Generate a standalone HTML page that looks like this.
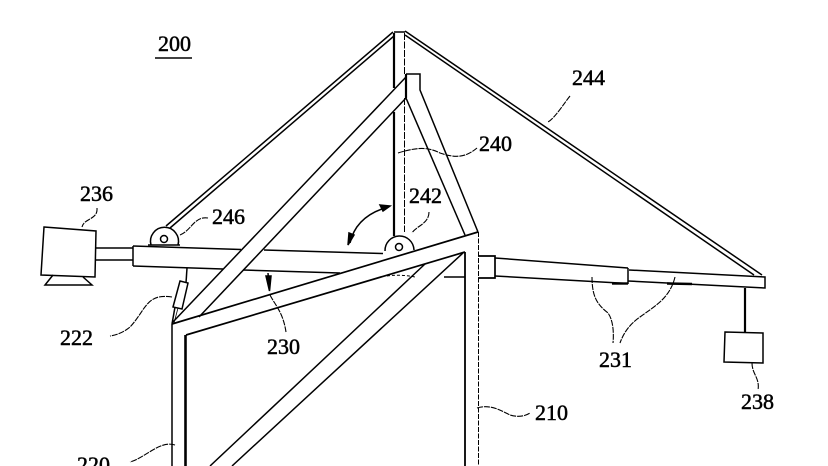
<!DOCTYPE html>
<html><head><meta charset="utf-8"><style>
html,body{margin:0;padding:0;background:#fff}
svg{display:block}
text{font-family:"Liberation Serif",serif;font-size:22px;fill:#000;stroke:#000;stroke-width:.5}
</style></head><body>
<svg width="828" height="466" viewBox="0 0 828 466" xmlns="http://www.w3.org/2000/svg">
<g fill="none" stroke="#000" stroke-width="1.500">
<!-- mast -->
<path d="M394 33V88M394 112V236" stroke-width="2.200"/>
<path d="M394 32H405"/>
<path d="M404.500 33V75M404.500 98V232" stroke-width="1" stroke-dasharray="7 1.500"/>
<!-- cables -->
<path d="M393 32L166 226"/><path d="M394 36L170 228"/>
<path d="M405 31L762 275"/><path d="M405 35L754 275"/>
<!-- inner frame -->
<path d="M406 74H420V90L478 232"/>
<path d="M406 74V98" stroke-width="2.200"/>
<path d="M406 98L465 235"/>
<!-- long brace -->
<path d="M406 77L172 323"/><path d="M406 98L199 317"/>
<!-- roof -->
<path d="M172 324L478 232" stroke-width="1.700"/>
<path d="M186 335L465 252" stroke-width="1.700"/>
<path d="M172 324V466"/>
<path d="M185.500 335V466" stroke-width="2.600"/>
<path d="M465 252V466" stroke-width="1.800"/>
<path d="M478.500 232V466" stroke-width="1" stroke-dasharray="5 1.500"/>
<!-- lower braces -->
<path d="M425 264L210 466"/><path d="M463 253L232 466"/>
<!-- beam left -->
<path d="M133 246L241 249.500M264 250L383 253.500"/>
<path d="M133 246V266"/>
<path d="M133 266L223 269M243 270L340 273"/>
<path d="M387 276Q400 274 415 277" stroke-width="1" stroke-dasharray="3 2"/>
<path d="M444 277H465"/>
<!-- motor shafts -->
<path d="M96 248H133M96 260H133"/>
<!-- beam right -->
<path d="M478 256H495V278H478" stroke-width="1.700"/>
<path d="M495 258L628 268"/>
<path d="M495 276L628 283.500"/>
<path d="M628 268V284"/>
<path d="M612 283.500H628" stroke-width="2.400"/>
<path d="M629 270L765 277V288L667 283"/>
<path d="M667 283.500L692 284" stroke-width="2.400"/>
<path d="M628 281L667 283"/>
<!-- motor 236 -->
<path d="M44 227L96 231L95 277L41 275Z"/>
<path d="M53 275L45 285H92L83 277"/>
<!-- box 238 -->
<path d="M725 332L763 333V363L724 362Z"/>
<path d="M745 288V332" stroke-width="2.200"/>
<!-- pulleys -->
<path d="M151 245A14 14 0 1 1 178 245"/>
<circle cx="164" cy="239" r="3.500"/>
<path d="M148 245H180" stroke-width="1.500"/>
<path d="M385 251A14 14 0 1 1 414 250"/>
<circle cx="399" cy="247" r="3.500" stroke-width="1.500"/>
<!-- 222 bar -->
<path d="M180 281L188 283L182 309L173 307Z"/>
<path d="M186 283L187 268"/>
<path d="M175 307L172 324"/><path d="M178 308L174 323" stroke-width=".8"/>
<!-- swing arrow -->
<path d="M350 243Q356 216 388 207"/>
<path d="M390 206L380 205L383 211Z" fill="#000"/>
<path d="M348 245L349 233L354 235Z" fill="#000"/>
<!-- 230 arrow -->
<path d="M268 273L269 286" stroke-width="1.500"/>
<path d="M269.500 291L266 276L271 276Z" fill="#000"/>
<!-- leaders -->
<g stroke-width="1.100" stroke-dasharray="6 1">
<path d="M97 208C98 220 84 218 82 227"/>
<path d="M208 218C194 216 192 230 180 235"/>
<path d="M172 297C146 293 146 310 130 327C124 332 117 335 110 336"/>
<path d="M398 153C420 146 430 148 440 153C455 158 465 158 477 148"/>
<path d="M429 212C429 224 416 226 412 233"/>
<path d="M570 96C565 102 555 118 548 122"/>
<path d="M270 295C275 305 283 312 286 332"/>
<path d="M592 277C592 298 598 305 608 313C613 320 614 332 613 343"/>
<path d="M675 277C670 298 655 306 640 317C630 324 624 332 620 343"/>
<path d="M477 408C490 404 500 410 510 415C516 417 524 417 530 413"/>
<path d="M752 363C752 374 760 378 758 390"/>
<path d="M175 445C160 440 145 458 130 462"/>
</g>
<path d="M155 58H192" stroke-width="1.600"/>
</g>
<text x="158" y="51">200</text>
<text x="572" y="85">244</text>
<text x="479" y="151">240</text>
<text x="409" y="203">242</text>
<text x="212" y="224">246</text>
<text x="80" y="201">236</text>
<text x="60" y="345">222</text>
<text x="267" y="354">230</text>
<text x="599" y="367">231</text>
<text x="741" y="409">238</text>
<text x="535" y="420">210</text>
<text x="77" y="472">220</text>
</svg>
</body></html>
